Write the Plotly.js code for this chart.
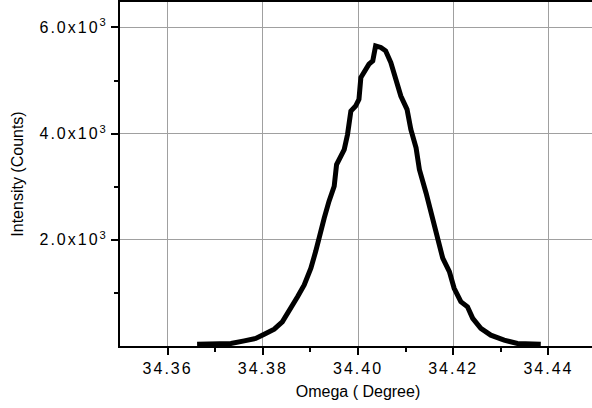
<!DOCTYPE html>
<html>
<head>
<meta charset="utf-8">
<script src="https://cdn.plot.ly/plotly-3.0.1.min.js"></script>
<style>
  html, body { margin: 0; padding: 0; overflow: hidden; background: #fff; }
  #chart { width: 596px; height: 408px; }
  .xtick text, .ytick text { letter-spacing: 2px; }
</style>
</head>
<body>
<div id="chart"></div>
<script>
// Omega (degree) and intensity (counts)
const omega = [34.3662, 34.3733, 34.3761, 34.3785, 34.3803, 34.3824, 34.3841, 34.3859, 34.3873,
  34.3887, 34.3901, 34.3911, 34.3918, 34.3929, 34.3939, 34.3950, 34.3955, 34.3964, 34.3971,
  34.3978, 34.3985, 34.3995, 34.4002, 34.4006, 34.4013, 34.4023, 34.4031, 34.4037, 34.4048,
  34.4058, 34.4069, 34.4083, 34.4090, 34.4103, 34.4111, 34.4122, 34.4129, 34.4143, 34.4157,
  34.4167, 34.4178, 34.4192, 34.4202, 34.4216, 34.4230, 34.4241, 34.4258, 34.4279, 34.4307,
  34.4335, 34.4384];
const counts = [34, 47, 96, 142, 223, 318, 456, 709, 928,
  1149, 1465, 1779, 2062, 2410, 2724, 3008, 3418, 3575, 3701,
  3985, 4425, 4520, 4646, 5057, 5181, 5308, 5371, 5654, 5624,
  5560, 5340, 4962, 4709, 4457, 4079, 3733, 3323, 2883, 2378,
  2032, 1654, 1401, 1087, 834, 739, 520, 331, 204, 110,
  47, 34];

const xTickVals = [34.36, 34.38, 34.40, 34.42, 34.44];
const xTickText = ['34.36', '34.38', '34.40', '34.42', '34.44'];
const xMinorVals = [34.37, 34.39, 34.41, 34.43];
const yTickVals = [2000, 4000, 6000];
const yTickText = ['2.0x10<sup>3</sup>', '4.0x10<sup>3</sup>', '6.0x10<sup>3</sup>'];
const yMinorVals = [1000, 3000, 5000];

const trace = {
  x: omega,
  y: counts,
  type: 'scatter',
  mode: 'lines',
  line: { color: '#000', width: 5 },
  hoverinfo: 'skip'
};

const font = { family: 'Liberation Sans, Arial, sans-serif', size: 16, color: '#000' };

const layout = {
  width: 596,
  height: 408,
  margin: { l: 120, r: 0, t: 2, b: 62 },
  paper_bgcolor: '#fff',
  plot_bgcolor: '#fff',
  showlegend: false,
  font: font,
  xaxis: {
    range: [34.35, 34.45],
    tickmode: 'array',
    tickvals: xTickVals,
    ticktext: xTickText,
    ticks: 'outside',
    ticklen: 7,
    tickwidth: 2,
    tickcolor: '#000',
    tickfont: { family: font.family, size: 16, color: '#000' },
    showline: true,
    linecolor: '#000',
    linewidth: 2,
    mirror: true,
    showgrid: true,
    gridcolor: '#a0a0a0',
    gridwidth: 1,
    zeroline: false,
    minor: { tickmode: 'array', tickvals: xMinorVals, ticks: 'outside', ticklen: 4, tickwidth: 2, tickcolor: '#000', showgrid: false },
    title: { text: 'Omega ( Degree)', font: { family: font.family, size: 16, color: '#000' }, standoff: 10 }
  },
  yaxis: {
    range: [0, 6480],
    tickmode: 'array',
    tickvals: yTickVals,
    ticktext: yTickText,
    ticks: 'outside',
    ticklen: 7,
    tickwidth: 2,
    tickcolor: '#000',
    tickfont: { family: font.family, size: 16, color: '#000' },
    showline: true,
    linecolor: '#000',
    linewidth: 2,
    mirror: true,
    showgrid: true,
    gridcolor: '#a0a0a0',
    gridwidth: 1,
    zeroline: false,
    minor: { tickmode: 'array', tickvals: yMinorVals, ticks: 'outside', ticklen: 4, tickwidth: 2, tickcolor: '#000', showgrid: false },
    title: { text: 'Intensity (Counts)', font: { family: font.family, size: 16, color: '#000' }, standoff: 12 }
  }
};

Plotly.newPlot('chart', [trace], layout, { staticPlot: true, displayModeBar: false });
</script>
</body>
</html>
